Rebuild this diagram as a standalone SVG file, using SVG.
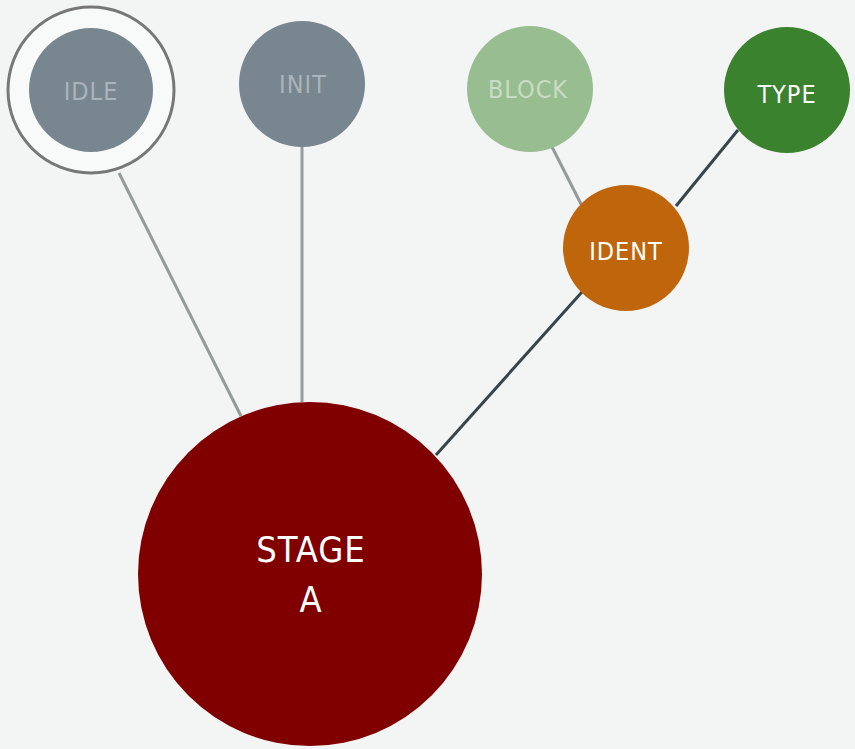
<svg xmlns="http://www.w3.org/2000/svg" width="855" height="749" viewBox="0 0 855 749">
<style>
text{font-family:"DejaVu Sans Condensed","DejaVu Sans",sans-serif;text-anchor:middle;font-size:25px;letter-spacing:1px}
.light{stroke:#959b9b;stroke-width:3}
.dark{stroke:#37454a;stroke-width:3}
.w{fill:#ffffff}
</style>
<rect width="855" height="749" fill="#f3f4f4"/>
<g id="connectors">
<line class="light" x1="119" y1="173" x2="241" y2="416"/>
<line class="light" x1="302" y1="147" x2="302" y2="402"/>
<line class="light" x1="549" y1="141" x2="582" y2="206"/>
<line class="dark" x1="738" y1="130" x2="676" y2="206"/>
<line class="dark" x1="582" y1="292" x2="436" y2="455"/>
</g>
<g id="idle">
<circle cx="91" cy="90" r="83" fill="#f8faf9" stroke="#777" stroke-width="3"/>
<circle cx="91" cy="90" r="62" fill="#78868f"/>
<text x="91" y="100" fill="#aab4bb">IDLE</text>
</g>
<g id="init">
<circle cx="302" cy="84" r="63" fill="#78868f"/>
<text x="303" y="93" fill="#aab4bb">INIT</text>
</g>
<g id="block">
<circle cx="530" cy="89" r="63" fill="#97bd91"/>
<text x="528" y="98" fill="#c8dcc4">BLOCK</text>
</g>
<g id="type">
<circle cx="787" cy="90" r="63" fill="#3a822e"/>
<text class="w" x="787" y="103">TYPE</text>
</g>
<g id="ident">
<circle cx="626" cy="248" r="63" fill="#bf660d"/>
<text class="w" x="626" y="260">IDENT</text>
</g>
<g id="stage">
<circle cx="310" cy="574" r="172" fill="#800000"/>
<text class="w" x="311" y="562" style="font-size:36px">STAGE</text>
<text class="w" x="311" y="612" style="font-size:36px">A</text>
</g>
</svg>
